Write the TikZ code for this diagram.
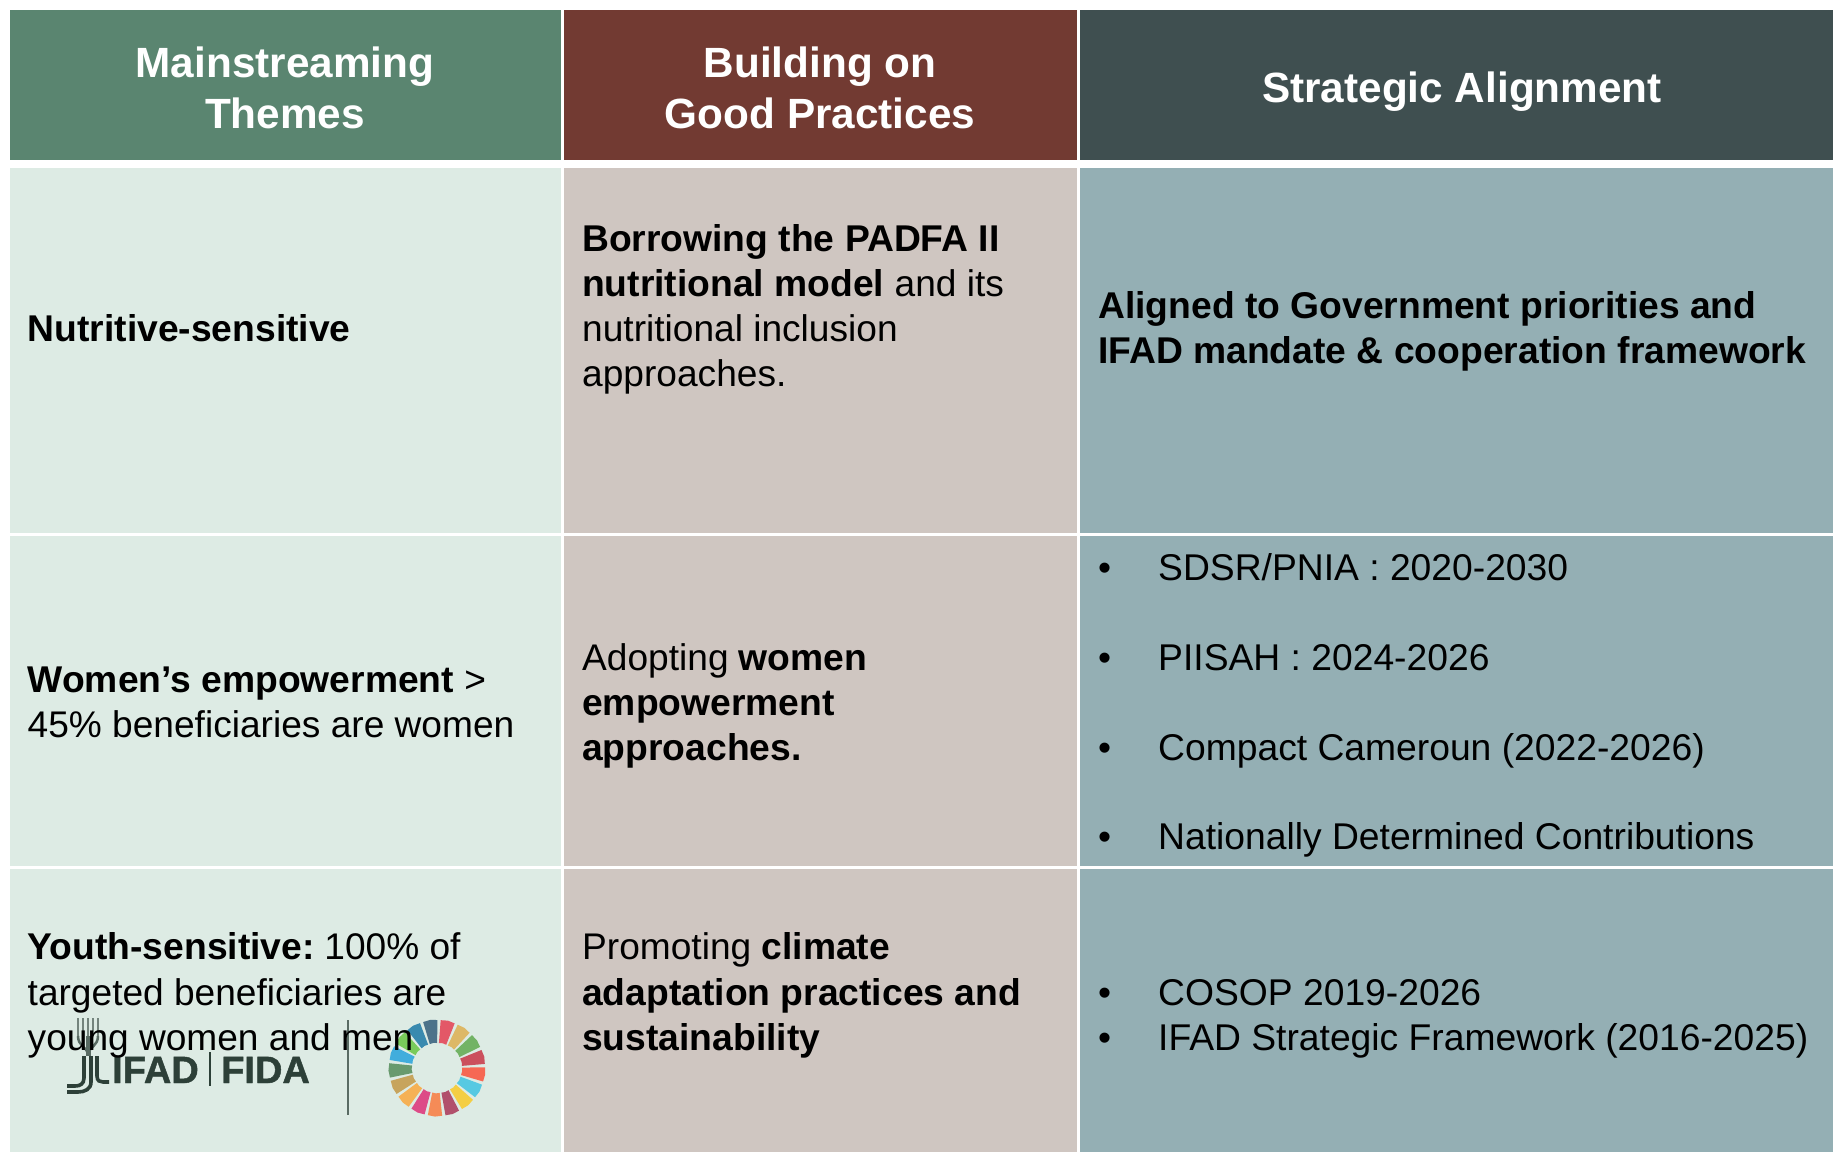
\documentclass[tikz,border=0pt]{standalone}
\usepackage{fontspec}
\setmainfont{Liberation Sans}
\newfontfamily\logofont[FakeBold=1.2]{Liberation Sans Bold}
\definecolor{hgreen}{HTML}{5A8570}
\definecolor{hmaroon}{HTML}{723A32}
\definecolor{hdark}{HTML}{3F4F50}
\definecolor{cgreen}{HTML}{DDEBE4}
\definecolor{ctaupe}{HTML}{CFC6C1}
\definecolor{cblue}{HTML}{94AFB4}
\definecolor{logoink}{HTML}{2D4038}
\tikzset{
  headtext/.style={inner sep=0,anchor=base,align=center,text=white,font=\fontsize{42.3}{51}\selectfont\bfseries},
  celltext/.style={inner sep=0,anchor=north west,align=left,text=black,font=\fontsize{37.1}{45}\selectfont},
  listtext/.style={inner sep=0,anchor=base west,text=black,font=\fontsize{37.25}{45}\selectfont},
  logotext/.style={inner sep=0,anchor=base west,text=logoink,font=\fontsize{38}{45}\logofont\selectfont},
  logostroke/.style={draw=logoink,line width=3.6pt,line cap=butt}
}
\newcommand{\firstl}{\rule{0pt}{30pt}}
\newcommand{\bb}[1]{{\fontsize{37.25}{45}\selectfont\bfseries #1}}
\begin{document}
\begin{tikzpicture}[x=1pt,y=-1pt]
\useasboundingbox (0,0) rectangle (1833,1152);
\fill[white] (0,0) rectangle (1833,1152);
% header
\fill[hgreen] (9.5,10) rectangle (561,160);
\fill[hmaroon] (563.5,10) rectangle (1077,160);
\fill[hdark] (1080,10) rectangle (1833,160);
% col 1
\fill[cgreen] (9.5,168) rectangle (561,533);
\fill[cgreen] (9.5,535.5) rectangle (561,866);
\fill[cgreen] (9.5,868.5) rectangle (561,1152);
% col 2
\fill[ctaupe] (563.5,168) rectangle (1077,533);
\fill[ctaupe] (563.5,535.5) rectangle (1077,866);
\fill[ctaupe] (563.5,868.5) rectangle (1077,1152);
% col 3
\fill[cblue] (1080,168) rectangle (1833,533);
\fill[cblue] (1080,535.5) rectangle (1833,866);
\fill[cblue] (1080,868.5) rectangle (1833,1152);
% logo: wheat and J strokes
\foreach \x in {78,83,88,93,98} \draw[logoink!60!cgreen,line width=2.6pt] (\x,1018) -- (\x,1036);
\draw[logoink!75!cgreen,line width=2.5pt] (78,1036) .. controls (78,1046) and (86,1046) .. (88,1054);
\draw[logoink!75!cgreen,line width=2.5pt] (98,1036) .. controls (98,1046) and (90,1046) .. (88,1054);
\draw[logoink!75!cgreen,line width=5pt] (88,1036) -- (88,1056);
\draw[logostroke] (84,1056) -- (84,1078) .. controls (84,1084) and (80,1086) .. (75,1086) -- (67,1086);
\draw[logostroke] (91,1056) -- (91,1082) .. controls (91,1089) and (85,1092) .. (78,1092) -- (67,1092);
\draw[logostroke] (97,1056) -- (97,1076) .. controls (97,1081) and (100,1082) .. (103,1082) -- (109,1082);
\node[logotext] (ifad) at (112,1083) {IFAD};
\draw[logoink,line width=1.4pt] (210,1052) -- (210,1086);
\node[logotext] (fida) at (221,1083) {FIDA};
\draw[logoink!75!cgreen,line width=1.4pt] (348,1020) -- (348,1115);
% SDG wheel
\begin{scope}[shift={(437,1068)}]
\foreach \c [count=\k from 0] in {E5243B,DDA63A,4C9F38,C5192D,FF3A21,26BDE2,FCC30B,A21942,FD6925,DD1367,FD9D24,BF8B2E,3F7E44,0A97D9,56C02B,00689D,19486A}{
  \definecolor{seg}{HTML}{\c}
  \pgfmathsetmacro{\am}{-77+\k*21.176}
  \pgfmathsetmacro{\aa}{\am-8.6}
  \pgfmathsetmacro{\ab}{\am+8.6}
  \fill[seg!74!cgreen] (\aa:25) -- (\aa:48) -- (\am:48.6) -- (\ab:48) -- (\ab:25) -- (\am:25.4) -- cycle;
}
\end{scope}
% headers
\node[headtext] (h1) at (285,128) {Mainstreaming\\Themes};
\node[headtext] (h2) at (820,128) {Building on\\Good Practices};
\node[headtext] (h3) at (1462,102) {Strategic Alignment};
% cells
\node[celltext] (a1) at (27.5,311.5) {\firstl\bb{Nutritive-sensitive}};
\node[celltext] (a2) at (27.5,662) {\firstl\bb{Women’s empowerment} >\\45\% beneficiaries are women};
\node[celltext] (a3) at (27.5,929.5) {\firstl\bb{Youth-sensitive:}\hspace{-4pt} 100\% of\\[0.6pt]targeted beneficiaries are\\[0.6pt]young women and men};
\node[celltext] (b1) at (582,221) {\firstl\bb{Borrowing the PADFA II}\\\bb{nutritional model} and its\\nutritional inclusion\\approaches.};
\node[celltext] (b2) at (582,640) {\firstl Adopting \bb{women}\\\bb{empowerment}\\\bb{approaches.}};
\node[celltext] (b3) at (582,929.5) {\firstl Promoting \bb{climate}\\[0.6pt]\bb{adaptation practices and}\\[0.6pt]\bb{sustainability}};
\node[celltext] (c1) at (1098,288) {\firstl\bb{Aligned to Government priorities and}\\\bb{IFAD mandate \& cooperation framework}};
\foreach \n/\y/\t in {d1/580/SDSR\slash PNIA : 2020-2030,d2/670/PIISAH : 2024-2026,d3/760/Compact Cameroun (2022-2026),d4/849/Nationally Determined Contributions,e1/1005/COSOP 2019-2026,e2/1050/IFAD Strategic Framework (2016-2025)}{
  \node[listtext] (\n b) at (1098,\y) {•};
  \node[listtext] (\n) at (1158,\y) {\t};
}
\end{tikzpicture}
\end{document}
